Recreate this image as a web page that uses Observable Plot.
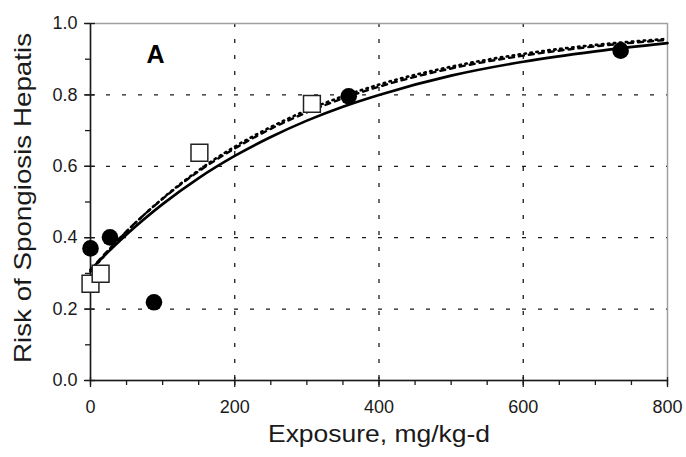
<!DOCTYPE html>
<html>
<head>
<meta charset="utf-8">
<script src="https://cdn.jsdelivr.net/npm/d3@7"></script>
<script src="https://cdn.jsdelivr.net/npm/@observablehq/plot@0.6"></script>
<style>
  html, body { margin: 0; padding: 0; background: #fff; }
  #chart { width: 686px; height: 457px; overflow: hidden; }
</style>
</head>
<body>
<div id="chart"></div>
<script>
// Observed data: filled circles
const circleX = [0, 27, 88, 358, 735];
const circleY = [0.370, 0.401, 0.219, 0.796, 0.924];
// Observed data: open squares
const squareX = [0, 14, 151, 307];
const squareY = [0.271, 0.299, 0.638, 0.775];

// Fitted curves
const curveX      = [0, 25, 50, 100, 150, 200, 250, 300, 350, 400, 500, 600, 700, 800];
const solidY      = [0.310, 0.361, 0.409, 0.494, 0.567, 0.629, 0.682, 0.728, 0.767, 0.800, 0.854, 0.893, 0.922, 0.945];
const dashedY     = [0.310, 0.366, 0.418, 0.509, 0.586, 0.650, 0.705, 0.751, 0.790, 0.823, 0.874, 0.910, 0.936, 0.954];
const dottedY     = [0.305, 0.363, 0.417, 0.510, 0.589, 0.655, 0.710, 0.757, 0.796, 0.829, 0.879, 0.915, 0.940, 0.957];

// Ticks
const xMajor = [0, 200, 400, 600, 800];
const xMinor = [0, 50, 100, 150, 200, 250, 300, 350, 400, 450, 500, 550, 600, 650, 700, 750, 800];
const yMajor = [0, 0.2, 0.4, 0.6, 0.8, 1.0];
const yMinor = [0, 0.1, 0.2, 0.3, 0.4, 0.5, 0.6, 0.7, 0.8, 0.9, 1.0];
const xGrid = [200, 400, 600];
const yGrid = [0.2, 0.4, 0.6, 0.8];

const xTitle = "Exposure, mg/kg-d";
const yTitle = "Risk of Spongiosis Hepatis";
const panelLabel = "A";

const circles = circleX.map((x, i) => ({x, y: circleY[i]}));
const squares = squareX.map((x, i) => ({x, y: squareY[i]}));
const solid = curveX.map((x, i) => ({x, y: solidY[i]}));
const dashed = curveX.map((x, i) => ({x, y: dashedY[i]}));
const dotted = curveX.map((x, i) => ({x, y: dottedY[i]}));

const ink = "#1a1a1a";
const blank = () => "";

const chart = Plot.plot({
  width: 686,
  height: 457,
  marginLeft: 90,
  marginRight: 19,
  marginTop: 23,
  marginBottom: 77,
  style: {fontFamily: "'Liberation Sans', Arial, sans-serif", fontSize: "18px", color: ink, background: "#fff"},
  x: {domain: [0, 800]},
  y: {domain: [0, 1]},
  marks: [
    Plot.gridX(xGrid, {stroke: ink, strokeOpacity: 1, strokeWidth: 1.3, strokeDasharray: "4,12"}),
    Plot.gridY(yGrid, {stroke: ink, strokeOpacity: 1, strokeWidth: 1.2, strokeDasharray: "4,12"}),
    Plot.frame({stroke: "#a0a0a0", strokeWidth: 1.5}),
    Plot.ruleX([0], {stroke: ink, strokeWidth: 1.5}),
    Plot.ruleY([0], {stroke: ink, strokeWidth: 1.5}),
    // x axis ticks
    Plot.axisX({ticks: xMinor, tickSize: 5, tickFormat: blank, stroke: ink, strokeWidth: 1.3, label: null}),
    Plot.axisX({ticks: xMajor, tickSize: 10, dy: -3, tickFormat: blank, stroke: ink, strokeWidth: 1.3, label: null}),
    Plot.axisX({ticks: xMajor, tickSize: 0, tickPadding: 20, fontSize: 18, fill: ink, label: null}),
    // y axis ticks
    Plot.axisY({ticks: yMinor, tickSize: 5, tickFormat: blank, stroke: ink, strokeWidth: 1.3, label: null}),
    Plot.axisY({ticks: yMajor, tickSize: 11, dx: 5, tickFormat: blank, stroke: ink, strokeWidth: 1.3, label: null}),
    Plot.axisY({ticks: yMajor, tickSize: 0, tickPadding: 13, fontSize: 18, fill: ink, tickFormat: d3.format(".1f"), label: null}),
    // curves
    Plot.line(solid, {x: "x", y: "y", stroke: "#000", strokeWidth: 2.6, curve: "monotone-x"}),
    Plot.line(dashed, {x: "x", y: "y", stroke: "#000", strokeWidth: 2.4, strokeDasharray: "5,5", curve: "monotone-x"}),
    Plot.line(dotted, {x: "x", y: "y", stroke: "#000", strokeWidth: 2.6, strokeDasharray: "1.5,4.5", strokeLinecap: "round", curve: "monotone-x"}),
    // points
    Plot.dot(squares, {x: "x", y: "y", symbol: "square", r: 9.5, fill: "#fff", stroke: "#222", strokeWidth: 1.5}),
    Plot.dot(circles, {x: "x", y: "y", r: 8.3, fill: "#000", stroke: "none"}),
    // texts
    Plot.text([panelLabel], {frameAnchor: "top-left", text: d => d, dx: 56, dy: 22, fontSize: 25, fontWeight: "bold", fill: "#000"}),
    Plot.text([xTitle], {frameAnchor: "bottom", text: d => d, dy: 61, fontSize: 24, fill: ink}),
    Plot.text([yTitle], {frameAnchor: "left", textAnchor: "middle", text: d => d, dx: -67, dy: -4, rotate: -90, fontSize: 24, fill: ink})
  ]
});

// stretch the axis titles to the lengths seen in the reference
d3.select(chart).selectAll("text").each(function() {
  const t = this.textContent;
  if (t === xTitle) d3.select(this).attr("textLength", 222).attr("lengthAdjust", "spacingAndGlyphs");
  if (t === yTitle) d3.select(this).attr("textLength", 330).attr("lengthAdjust", "spacingAndGlyphs");
});

document.getElementById("chart").appendChild(chart);
</script>
</body>
</html>
